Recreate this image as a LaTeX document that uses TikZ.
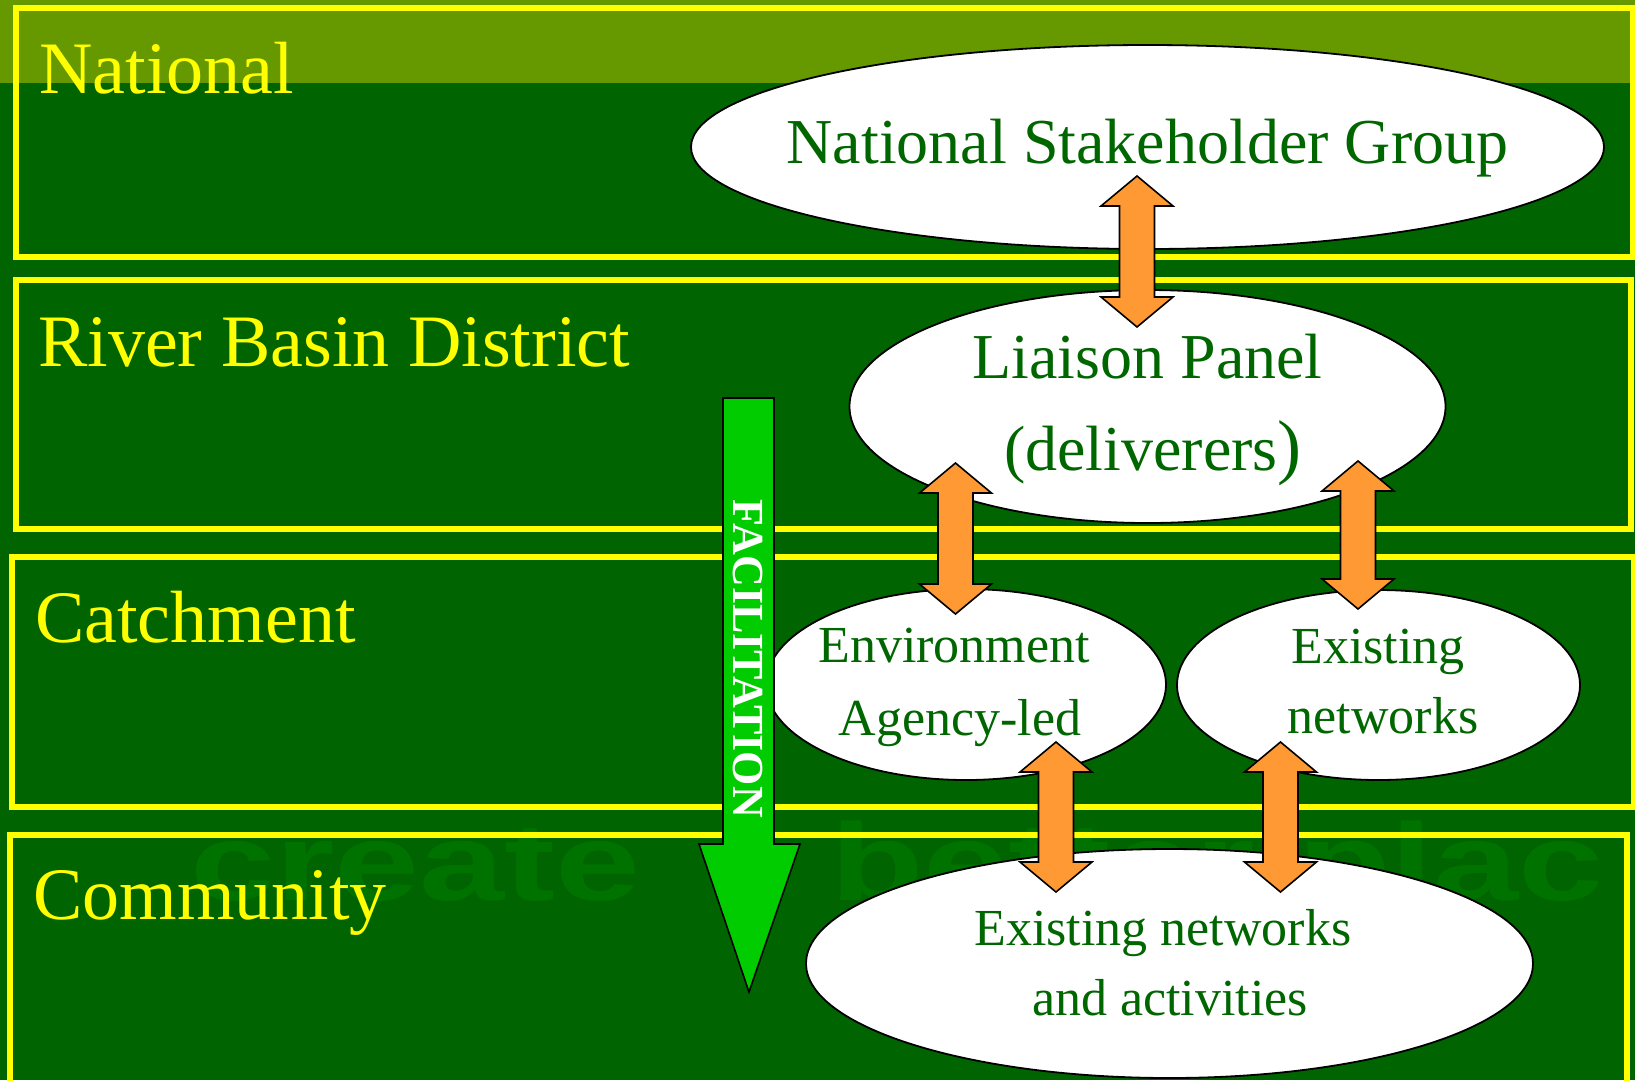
\documentclass[tikz,border=0pt]{standalone}
\usepackage{fontspec}
\setmainfont{Liberation Serif}
\newfontfamily\wmfont{Liberation Sans}
\usetikzlibrary{shapes.geometric}
\definecolor{bggreen}{RGB}{0,100,0}
\definecolor{bandolive}{RGB}{102,153,0}
\definecolor{wmgreen}{RGB}{0,114,0}
\definecolor{txtgreen}{RGB}{0,102,0}
\definecolor{arroworange}{RGB}{255,153,51}
\definecolor{facgreen}{RGB}{0,204,0}
\definecolor{frameyellow}{RGB}{255,255,0}
\newcommand\setfs[1]{\fontsize{#1}{#1}\selectfont}
\newcommand\dblblock[3]{% x, ytop, ybot
  \draw[link] (#1,#2) -- (#1+36,#2+30) -- (#1+17.5,#2+30) -- (#1+17.5,#3-30) -- (#1+36,#3-30) -- (#1,#3)
    -- (#1-36,#3-30) -- (#1-17.5,#3-30) -- (#1-17.5,#2+30) -- (#1-36,#2+30) -- cycle;}
\tikzset{
  levelframe/.style={draw=frameyellow, line width=6pt},
  level/.style={text=frameyellow, font=\setfs{74}, anchor=base west, inner sep=0pt},
  bubble/.style={ellipse, draw=black, line width=1.8pt, fill=white, inner sep=0pt},
  btext/.style={text=txtgreen, anchor=base, inner sep=0pt},
  link/.style={draw=black, line width=1.6pt, fill=arroworange, line join=miter},
  watermark/.style={anchor=base west, inner sep=0pt, text=wmgreen, font=\wmfont\bfseries\setfs{110}},
}
\begin{document}
\begin{tikzpicture}[x=1pt,y=-1pt]
\useasboundingbox (0,0) rectangle (1635,1080);
\clip (0,0) rectangle (1635,1080);
% background
\fill[bggreen] (0,0) rectangle (1635,1080);
\fill[bandolive] (0,0) rectangle (1635,83);
% watermark
\node[watermark] (wm1) at (190,900) {\scalebox{1.39}[1]{create}};
\node[watermark] (wm2) at (830,900) {\scalebox{1.39}[1]{better plac}};
% level frames
\draw[levelframe] (16,7.5) rectangle (1632.5,257);
\draw[levelframe] (16,280) rectangle (1630.5,529);
\draw[levelframe] (12,557) rectangle (1633.5,806.5);
\draw[levelframe] (9.5,834.5) rectangle (1627,1110);
% level labels
\node[level] (lnat) at (39,93) {National};
\node[level] (lrbd) at (38,366) {River Basin District};
\node[level] (lcat) at (35,642) {Catchment};
\node[level] (lcom) at (33,919) {Community};
% ellipses
\node[bubble, minimum width=913, minimum height=204] (nsg) at (1147.5,147) {};
\node[bubble, minimum width=596, minimum height=233] (lp) at (1147.5,406.5) {};
\node[bubble, minimum width=400, minimum height=191] (ea) at (966,684.5) {};
\node[bubble, minimum width=403, minimum height=190] (en) at (1378.5,685) {};
\node[bubble, minimum width=727, minimum height=229] (ena) at (1169.5,963.5) {};
% ellipse texts
\node[btext, font=\setfs{64}] (nsgt) at (1147.5,163) {National Stakeholder Group};
\node[btext, font=\setfs{64}] (lpt1) at (1147.5,378) {Liaison Panel};
\node[btext, font=\setfs{64}] (lpt2) at (1153,470) {(deliverers{\setfs{72})}};
\node[btext, font=\setfs{52}] (eat1) at (954,662) {Environment};
\node[btext, font=\setfs{52}] (eat2) at (960,735) {Agency-led};
\node[btext, font=\setfs{52}] (ent1) at (1378,663) {Existing};
\node[btext, font=\setfs{52}] (ent2) at (1383,733) {networks};
\node[btext, font=\setfs{52}] (enat1) at (1163,945) {Existing networks};
\node[btext, font=\setfs{52}] (enat2) at (1170,1015) {and activities};
% orange double arrows
\dblblock{1137}{176}{327}
\dblblock{955.5}{463}{614}
\dblblock{1358}{461}{609}
\dblblock{1056}{742}{892}
\dblblock{1280.5}{742}{892}
% facilitation arrow
\draw[draw=black, line width=1.6pt, fill=facgreen, line join=miter]
  (723,398) -- (774,398) -- (774,844) -- (800,844) -- (749,992) -- (699,844) -- (723,844) -- cycle;
\node[rotate=-90, text=white, font=\bfseries\setfs{37}, inner sep=0pt] (fac) at (748,659) {\scalebox{1.19}[1.2]{FACILITATION}};
\end{tikzpicture}
\end{document}
